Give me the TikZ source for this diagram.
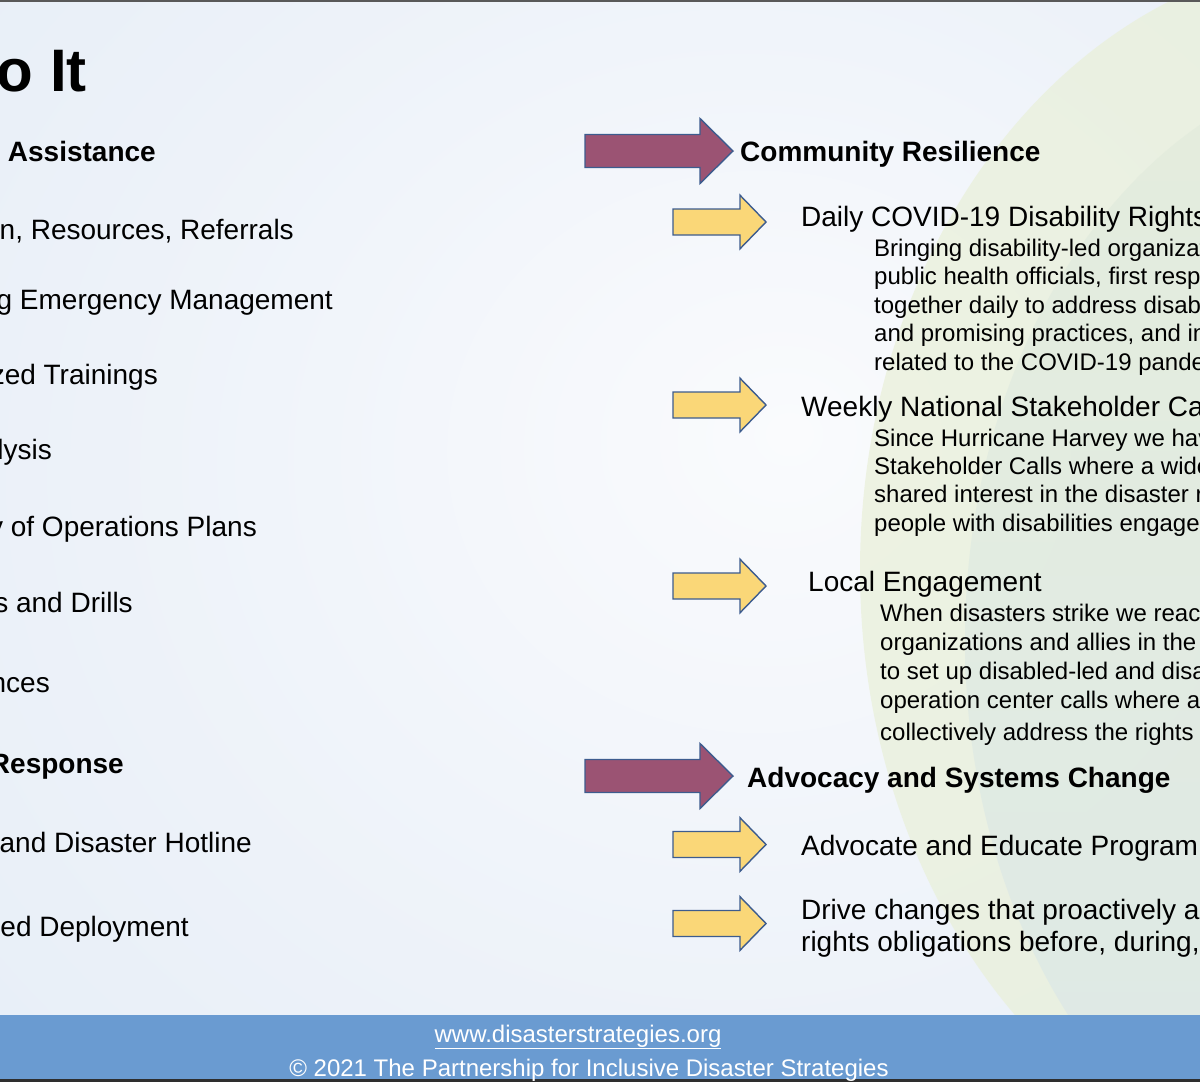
\documentclass[tikz,border=0pt]{standalone}
\usepackage{fontspec}
\setmainfont{Liberation Sans}
\definecolor{bgedge}{HTML}{E1EBF6}
\definecolor{bgmid}{HTML}{EDF2F9}
\definecolor{bgcenter}{HTML}{FAFBFD}
\definecolor{leafA}{HTML}{E9F0D8}
\definecolor{leafB}{HTML}{E1EBD9}
\definecolor{leafC}{HTML}{D8E5E9}
\definecolor{plum}{HTML}{9B5373}
\definecolor{sun}{HTML}{FAD778}
\definecolor{edgeblue}{HTML}{3D5C8E}
\definecolor{footblue}{HTML}{6A9BD1}
\pgfdeclareradialshading{bgshade}{\pgfpoint{8bp}{5bp}}{color(0bp)=(bgcenter); color(26bp)=(bgmid); color(55bp)=(bgedge); color(75bp)=(bgedge)}
\tikzset{
  arrowline/.style={draw=edgeblue, line width=1.4pt, line join=miter},
  plumarrow/.pic={\draw[arrowline, fill=plum] (0,-16.5) -- (115,-16.5) -- (115,-32.5) -- (148,0) -- (115,32.5) -- (115,16.5) -- (0,16.5) -- cycle;},
  sunarrow/.pic={\draw[arrowline, fill=sun] (0,-13) -- (67,-13) -- (67,-26.8) -- (93,0) -- (67,26.8) -- (67,13) -- (0,13) -- cycle;},
  txt/.style={inner sep=0pt, anchor=base west, text=black},
  head/.style={txt, font=\fontsize{28}{34}\selectfont},
  headb/.style={txt, font=\fontsize{28}{34}\selectfont\bfseries},
  body/.style={txt, font=\fontsize{24}{29}\selectfont},
  lefttxt/.style={inner sep=0pt, anchor=base east, text=black, font=\fontsize{28}{34}\selectfont},
  leftbold/.style={lefttxt, font=\fontsize{28}{34}\selectfont\bfseries},
  titletxt/.style={lefttxt, font=\fontsize{60}{72}\selectfont\bfseries},
  foot/.style={inner sep=0pt, anchor=base, text=white, font=\fontsize{24}{29}\selectfont},
}
\begin{document}
\begin{tikzpicture}[x=1pt, y=-1pt]
\useasboundingbox (0,0) rectangle (1200,1082);
\clip (0,0) rectangle (1200,1082);
% background
\shade[shading=bgshade] (0,0) rectangle (1200,1082);
\fill[leafA, opacity=0.7] (1360,570) ellipse (500 and 615);
\begin{scope}
  \clip (1400,640) ellipse (435 and 580);
  \shade[top color=leafB, bottom color=leafC, opacity=0.6] (900,0) rectangle (1200,1082);
\end{scope}
% top and bottom bars
\fill[black!65] (0,0) rectangle (1200,2);
\fill[footblue] (0,1015) rectangle (1200,1079);
\fill[black!82] (0,1079) rectangle (1200,1082);
% left column
\node[titletxt] (title) at (87,91) {o It};
\node[leftbold] (l1) at (156,161) {l Assistance};
\node[lefttxt] (l2) at (294,239) {on, Resources, Referrals};
\node[lefttxt] (l3) at (333,309) {g Emergency Management};
\node[lefttxt] (l4) at (158,384) {zed Trainings};
\node[lefttxt] (l5) at (52,459) {lysis};
\node[lefttxt] (l6) at (257,536) {y of Operations Plans};
\node[lefttxt] (l7) at (133,612) {s and Drills};
\node[lefttxt] (l8) at (50,692.5) {nces};
\node[leftbold] (l9) at (124,773) {Response};
\node[lefttxt] (l10) at (252,852) {and Disaster Hotline};
\node[lefttxt] (l11) at (189,936) {led Deployment};
% right column
\pic (pa1) at (585,151) {plumarrow};
\node[headb] (cr) at (740,161) {Community Resilience};
\pic (ya1) at (673,222) {sunarrow};
\node[head] (d1) at (801,226) {Daily COVID-19 Disability Rights};
\node[body] (d2) at (874,256) {Bringing disability-led organizat};
\node[body] (d3) at (874,284.5) {public health officials, first resp};
\node[body] (d4) at (874,313) {together daily to address disab};
\node[body] (d5) at (874,341.5) {and promising practices, and in};
\node[body] (d6) at (874,370) {related to the COVID-19 pande};
\pic (ya2) at (673,405) {sunarrow};
\node[head] (w1) at (801,416) {Weekly National Stakeholder Ca};
\node[body] (w2) at (874,446) {Since Hurricane Harvey we hav};
\node[body] (w3) at (874,474) {Stakeholder Calls where a wide};
\node[body] (w4) at (874,502.5) {shared interest in the disaster r};
\node[body] (w5) at (874,531) {people with disabilities engage};
\pic (ya3) at (673,586) {sunarrow};
\node[head] (le1) at (808,591) {Local Engagement};
\node[body] (le2) at (880,621.5) {When disasters strike we reac};
\node[body] (le3) at (880,650) {organizations and allies in the};
\node[body] (le4) at (880,679) {to set up disabled-led and disa};
\node[body] (le5) at (880,708.5) {operation center calls where a};
\node[body] (le6) at (880,740) {collectively address the rights};
\pic (pa2) at (585,776) {plumarrow};
\node[headb] (asc) at (747,787) {Advocacy and Systems Change};
\pic (ya4) at (673,844.5) {sunarrow};
\node[head] (aep) at (801,855) {Advocate and Educate Program};
\pic (ya5) at (673,923.5) {sunarrow};
\node[head] (dc1) at (801,919) {Drive changes that proactively a};
\node[head] (dc2) at (801,951) {rights obligations before, during,};
% footer
\node[foot] (url) at (578,1042) {\underline{www.disasterstrategies.org}};
\node[foot] (copy) at (589,1076) {© 2021 The Partnership for Inclusive Disaster Strategies};
\end{tikzpicture}
\end{document}
